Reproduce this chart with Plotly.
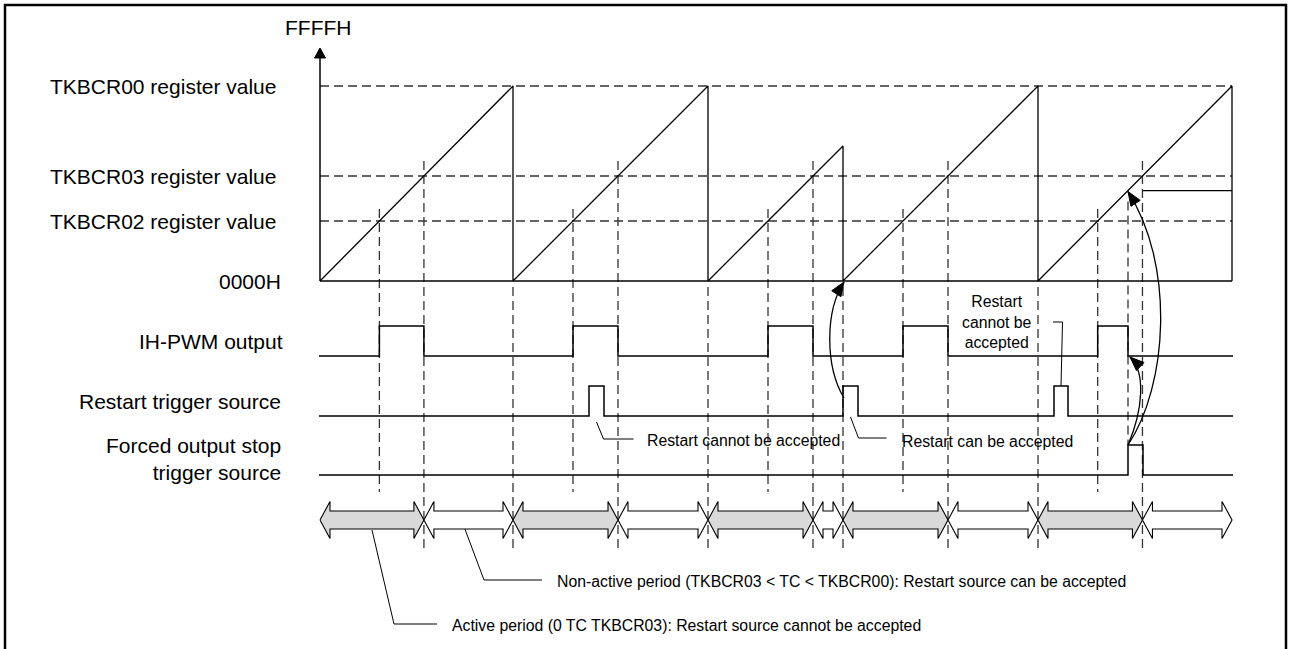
import plotly.graph_objects as go

# ---------------- data (time and counter values in timer ticks) ----------------
ramp_start_t = [0, 193, 388, 523, 718]       # TC starts counting from 0000H
ramp_end_t = [193, 388, 523, 718, 912]       # TC cleared / restarted
ramp_end_val = [195, 195, 135, 195, 195]     # TC value reached before clear/restart
TKBCR00 = 195
TKBCR03 = 105
TKBCR02 = 60
T_END = 912

restart_on = [269, 523, 734]
restart_off = [284, 538, 748]
forced_on = [808]
forced_off = [823]

register_labels = ["TKBCR00 register value", "TKBCR03 register value", "TKBCR02 register value"]
register_values = [TKBCR00, TKBCR03, TKBCR02]
signal_labels = ["IH-PWM output", "Restart trigger source", "Forced output stop<br>trigger source"]

# ---------------- layout constants (diagram units = pixels) ----------------
ROW_PWM, ROW_RST, ROW_FRC = -75, -135, -194
PULSE_H = 30
BAND_Y = -239
DASH_BOTTOM_SHORT = -211
DASH_BOTTOM_LONG = -268
FONT = "Arial, 'Liberation Sans', sans-serif"
LBL = 21
NOTE = 15.8
LINE_C = "#000000"
DASH_C = "#333333"

def cross_t(i, level):
    s, e, p = ramp_start_t[i], ramp_end_t[i], ramp_end_val[i]
    return s + (e - s) * level / p

def val_at(t):
    for s, e, p in zip(ramp_start_t, ramp_end_t, ramp_end_val):
        if s <= t <= e:
            return (t - s) * p / (e - s)
    return 0

fig = go.Figure()

def add_line(xs, ys, color=LINE_C, width=1.4, dash=None):
    fig.add_trace(go.Scatter(x=xs, y=ys, mode="lines", hoverinfo="skip", showlegend=False,
                             line=dict(color=color, width=width, dash=dash)))

def add_poly(xs, ys, fill, width=1.1):
    fig.add_trace(go.Scatter(x=xs, y=ys, mode="lines", fill="toself", fillcolor=fill,
                             hoverinfo="skip", showlegend=False,
                             line=dict(color=LINE_C, width=width)))

DASH = "9px,5px"
# ---- horizontal dashed register levels ----
hx, hy = [], []
for v in register_values:
    hx += [0, T_END, None]
    hy += [v, v, None]
add_line(hx, hy, DASH_C, 1.3, DASH)

# ---- vertical dashed time markers ----
c02 = [cross_t(i, TKBCR02) for i in range(len(ramp_start_t))]
c03 = [cross_t(i, TKBCR03) for i in range(len(ramp_start_t))]
vx, vy = [], []
for t in c02:
    vx += [t, t, None]; vy += [TKBCR02 + 12, DASH_BOTTOM_SHORT, None]
for t in c03:
    vx += [t, t, None]; vy += [TKBCR03 + 15, DASH_BOTTOM_LONG, None]
for t in ramp_start_t[1:]:
    vx += [t, t, None]; vy += [-6, DASH_BOTTOM_LONG, None]
for t in forced_on:
    vx += [t, t, None]; vy += [val_at(t) - 11, ROW_FRC + PULSE_H, None]
add_line(vx, vy, DASH_C, 1.3, DASH)

# ---- counter (sawtooth) ----
sx, sy = [0], [0]
for s, e, p in zip(ramp_start_t, ramp_end_t, ramp_end_val):
    sx += [s, e, e]; sy += [0, p, 0]
add_line(sx, sy, width=1.3)
add_line([0, T_END], [0, 0], width=1.5)
# captured TC level after forced stop
stop_val = val_at(forced_on[0])
add_line([c03[-1], T_END], [stop_val, stop_val], width=1.3)
# vertical axis with arrow
add_line([0, 0], [0, 228], width=1.5)
add_poly([0, -5.5, 5.5, 0], [233, 223, 223, 233], LINE_C, 1)

# ---- IH-PWM output ----
pwm_on = c02[:]
pwm_off = [min(c03[i], forced_on[0]) if ramp_start_t[i] <= forced_on[0] <= ramp_end_t[i] else c03[i]
           for i in range(len(c03))]
px, py = [-1], [ROW_PWM]
for a, b in zip(pwm_on, pwm_off):
    px += [a, a, b, b]; py += [ROW_PWM, ROW_PWM + PULSE_H, ROW_PWM + PULSE_H, ROW_PWM]
px.append(T_END + 1); py.append(ROW_PWM)
add_line(px, py, width=1.5)

def pulse_train(on, off, row):
    xs, ys = [-1], [row]
    for a, b in zip(on, off):
        xs += [a, a, b, b]; ys += [row, row + PULSE_H, row + PULSE_H, row]
    xs.append(T_END + 1); ys.append(row)
    return xs, ys

add_line(*pulse_train(restart_on, restart_off, ROW_RST), width=1.5)
add_line(*pulse_train(forced_on, forced_off, ROW_FRC), width=1.5)

# ---- active / non-active period arrows ----
def dbl_arrow(a, b, c, fill):
    h, H, L = 9, 18.5, 10
    xs = [a, a + L, a + L, b - L, b - L, b, b - L, b - L, a + L, a + L, a]
    ys = [c, c + H, c + h, c + h, c + H, c, c - H, c - h, c - h, c - H, c]
    add_poly(xs, ys, fill)

for i in range(len(ramp_start_t)):
    dbl_arrow(ramp_start_t[i], c03[i], BAND_Y, "#d9d9d9")
    dbl_arrow(c03[i], ramp_end_t[i], BAND_Y, "#ffffff")

# ---- curved arrows ----
shapes = []
def bezier_arrow(p0, p1, p2, p3):
    shapes.append(dict(type="path", xref="x", yref="y",
                       path=f"M {p0[0]},{p0[1]} C {p1[0]},{p1[1]} {p2[0]},{p2[1]} {p3[0]},{p3[1]}",
                       line=dict(color=LINE_C, width=1.3)))
    dx, dy = p3[0] - p2[0], p3[1] - p2[1]
    n = (dx * dx + dy * dy) ** 0.5
    ux, uy = dx / n, dy / n
    L, W = 14, 5.5
    bx, by = p3[0] - ux * L, p3[1] - uy * L
    add_poly([p3[0], bx - uy * W, bx + uy * W, p3[0]],
             [p3[1], by + ux * W, by - ux * W, p3[1]], LINE_C, 1)

# restart accepted -> counter restarts
r = restart_on[1]
bezier_arrow((r + 1, ROW_RST + PULSE_H / 2 + 3), (r - 18, ROW_RST + 50), (r - 18, -30), (r + 1, -1))
# forced stop -> PWM output off
f = forced_on[0]
bezier_arrow((f, ROW_FRC + PULSE_H), (f + 15, ROW_FRC + 65), (f + 18, ROW_PWM - 16), (f + 2, ROW_PWM - 1))
# forced stop -> TC value
bezier_arrow((f, ROW_FRC + PULSE_H), (f + 40, -104), (f + 47, 16), (f, stop_val - 1))

# ---- leader lines ----
m1 = (restart_on[0] + restart_off[0]) / 2
add_line([m1, m1 + 7, m1 + 37], [ROW_RST - 6, ROW_RST - 23, ROW_RST - 23], width=1)
m2 = (restart_on[1] + restart_off[1]) / 2
add_line([m2, m2 + 8, m2 + 36], [ROW_RST - 1, ROW_RST - 22, ROW_RST - 22], width=1)
m3 = (restart_on[2] + restart_off[2]) / 2
add_line([m3, m3 + 1.5, m3 - 8], [ROW_RST + PULSE_H, ROW_PWM + 34, ROW_PWM + 34], width=1)
add_line([ramp_start_t[0] + 52, 74, 117], [BAND_Y - 10, -343, -343], width=1)
add_line([c03[0] + 41, 164, 222], [BAND_Y - 9, -299, -299], width=1)

# ---------------- text ----------------
ann = []
def txt(x, y, s, size, xanchor="left", align="left"):
    ann.append(dict(x=x, y=y, xref="x", yref="y", text=s, showarrow=False, xanchor=xanchor,
                    yanchor="middle", align=align, font=dict(family=FONT, size=size, color="#000")))

txt(-2, 254, "FFFFH", LBL, "center")
for lab, v in zip(register_labels, register_values):
    txt(-42, v, lab, LBL, "right", "right")
txt(-37, 0, "0000H", LBL, "right", "right")
txt(-35, ROW_PWM + PULSE_H / 2, signal_labels[0], LBL, "right", "right")
txt(-37, ROW_RST + PULSE_H / 2, signal_labels[1], LBL, "right", "right")
txt(-37, ROW_FRC + 16, signal_labels[2], LBL, "right", "right")
txt(m1 + 48, ROW_RST - 24, "Restart cannot be accepted", NOTE)
txt(m2 + 49, ROW_RST - 25, "Restart can be accepted", NOTE)
txt(677, ROW_PWM + 34, "Restart<br>cannot be<br>accepted", NOTE, "center", "center")
txt(235, -300, "Non-active period (TKBCR03 &lt; TC &lt; TKBCR00): Restart source can be accepted", NOTE)
txt(130, -344, "Active period (0 TC TKBCR03): Restart source cannot be accepted", NOTE)

# outer frame
shapes.append(dict(type="rect", xref="paper", yref="paper", x0=5 / 1291, x1=1286 / 1291,
                   y0=-0.05, y1=1 - 5 / 649, line=dict(color="#000", width=2.5), layer="above"))

fig.update_layout(
    width=1291, height=649, margin=dict(l=0, r=0, t=0, b=0),
    paper_bgcolor="white", plot_bgcolor="white",
    xaxis=dict(range=[-320, 971], visible=False, fixedrange=True),
    yaxis=dict(range=[-368, 281], visible=False, fixedrange=True),
    shapes=shapes, annotations=ann, showlegend=False,
)

fig.write_html("out.html", config={"displayModeBar": False},
               post_script="document.body.style.margin='0';document.body.style.overflow='hidden';")
